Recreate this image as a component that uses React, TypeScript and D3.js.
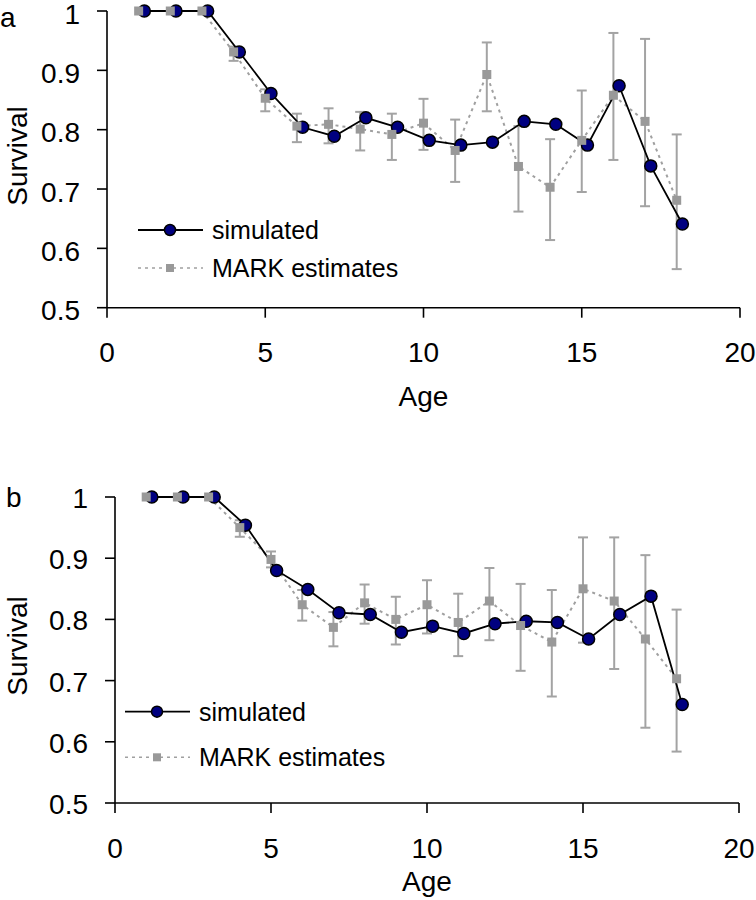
import React from "react";
import * as d3 from "d3";

const ages = [1, 2, 3, 4, 5, 6, 7, 8, 9, 10, 11, 12, 13, 14, 15, 16, 17, 18];

const simA = [1, 1, 1, 0.931, 0.861, 0.804, 0.789, 0.82, 0.804, 0.782, 0.774, 0.779, 0.814, 0.809, 0.774, 0.874, 0.739, 0.641];
const markA = [1, 1, 1, 0.931, 0.853, 0.806, 0.809, 0.801, 0.792, 0.811, 0.765, 0.893, 0.738, 0.703, 0.782, 0.858, 0.814, 0.681];
const markALo = [1, 1, 1, 0.916, 0.831, 0.779, 0.777, 0.765, 0.749, 0.766, 0.712, 0.831, 0.662, 0.614, 0.695, 0.749, 0.671, 0.565];
const markAHi = [1, 1, 1, 0.94, 0.868, 0.827, 0.836, 0.83, 0.827, 0.852, 0.817, 0.947, 0.806, 0.784, 0.866, 0.963, 0.953, 0.792];

const simB = [1, 1, 1, 0.954, 0.88, 0.849, 0.811, 0.808, 0.779, 0.789, 0.777, 0.793, 0.797, 0.795, 0.768, 0.808, 0.838, 0.661];
const markB = [1, 1, 1, 0.95, 0.898, 0.824, 0.787, 0.827, 0.8, 0.824, 0.795, 0.83, 0.79, 0.763, 0.85, 0.83, 0.768, 0.703];
const markBLo = [1, 1, 1, 0.935, 0.885, 0.798, 0.756, 0.793, 0.759, 0.777, 0.74, 0.766, 0.716, 0.674, 0.762, 0.719, 0.623, 0.584];
const markBHi = [1, 1, 1, 0.962, 0.911, 0.848, 0.812, 0.857, 0.837, 0.864, 0.842, 0.884, 0.858, 0.848, 0.934, 0.934, 0.905, 0.816];

const xTicks = [0, 5, 10, 15, 20];
const yTicks = [0.5, 0.6, 0.7, 0.8, 0.9, 1];
const yTickLabels = ["0.5", "0.6", "0.7", "0.8", "0.9", "1"];
const seriesNames = ["simulated", "MARK estimates"];

const SIM_OFFSET = 0.18;
const FONT = "'Liberation Sans', Arial, sans-serif";

type PanelProps = {
  letter: string;
  sim: number[];
  mark: number[];
  lo: number[];
  hi: number[];
  x0: number;
  x1: number;
  yTop: number;
  yBot: number;
  tickFont: number;
  yLabDy: number;
  ageBaseline: number;
  survivalX: number;
  survivalY: number;
  letterX: number;
  letterY: number;
  legX: number;
  legY1: number;
  legY2: number;
};

function Panel(p: PanelProps) {
  const x = d3.scaleLinear().domain([0, 20]).range([p.x0, p.x1]);
  const y = d3.scaleLinear().domain([0.5, 1]).range([p.yBot, p.yTop]);
  const simLine = d3
    .line<number>()
    .x((_, i) => x(ages[i] + SIM_OFFSET))
    .y((d) => y(d));
  const markLine = d3
    .line<number>()
    .x((_, i) => x(ages[i]))
    .y((d) => y(d));
  const grayBar = "#a3a3a3";
  const sq = 9;
  return (
    <g fontFamily={FONT}>
      <text x={p.letterX} y={p.letterY} fontSize={28} fill="#000">
        {p.letter}
      </text>
      {/* axes */}
      <line x1={p.x0} x2={p.x0} y1={p.yTop} y2={p.yBot} stroke="#000" strokeWidth={1.6} />
      <line x1={p.x0} x2={p.x1} y1={p.yBot} y2={p.yBot} stroke="#000" strokeWidth={1.6} />
      {yTicks.map((t, i) => (
        <g key={"y" + t}>
          <line x1={p.x0 - 10} x2={p.x0} y1={y(t)} y2={y(t)} stroke="#000" strokeWidth={1.6} />
          <text
            x={p.x0 - 27}
            y={y(t) + p.yLabDy}
            textAnchor="end"
            dominantBaseline="central"
            fontSize={p.tickFont}
            fill="#000"
          >
            {yTickLabels[i]}
          </text>
        </g>
      ))}
      {xTicks.map((t) => (
        <g key={"x" + t}>
          <line x1={x(t)} x2={x(t)} y1={p.yBot} y2={p.yBot + 10} stroke="#000" strokeWidth={1.6} />
          <text
            x={x(t)}
            y={p.yBot + 45}
            textAnchor="middle"
            dominantBaseline="central"
            fontSize={p.tickFont}
            fill="#000"
          >
            {t}
          </text>
        </g>
      ))}
      <text x={(p.x0 + p.x1) / 2} y={p.ageBaseline} textAnchor="middle" fontSize={28} fill="#000">
        Age
      </text>
      <text
        transform={`translate(${p.survivalX},${p.survivalY}) rotate(-90)`}
        textAnchor="middle"
        fontSize={28}
        fill="#000"
      >
        Survival
      </text>
      {/* error bars */}
      {ages.map((a, i) =>
        p.hi[i] - p.lo[i] > 0.001 ? (
          <g key={"e" + a} stroke={grayBar} strokeWidth={2}>
            <line x1={x(a)} x2={x(a)} y1={y(p.lo[i])} y2={y(p.hi[i])} />
            <line x1={x(a) - 5} x2={x(a) + 5} y1={y(p.lo[i])} y2={y(p.lo[i])} />
            <line x1={x(a) - 5} x2={x(a) + 5} y1={y(p.hi[i])} y2={y(p.hi[i])} />
          </g>
        ) : null
      )}
      <path d={markLine(p.mark) || ""} fill="none" stroke="#a0a0a0" strokeWidth={2} strokeDasharray="3,4" />
      <path d={simLine(p.sim) || ""} fill="none" stroke="#000" strokeWidth={1.8} />
      {p.sim.map((v, i) => (
        <circle key={"c" + i} cx={x(ages[i] + SIM_OFFSET)} cy={y(v)} r={6} fill="#000080" stroke="#000" strokeWidth={1.5} />
      ))}
      {p.mark.map((v, i) => (
        <rect key={"s" + i} x={x(ages[i]) - sq / 2} y={y(v) - sq / 2} width={sq} height={sq} fill="#999999" />
      ))}
      {/* legend */}
      <line x1={p.legX} x2={p.legX + 65} y1={p.legY1} y2={p.legY1} stroke="#000" strokeWidth={1.8} />
      <circle cx={p.legX + 32} cy={p.legY1} r={5.5} fill="#000080" stroke="#000" strokeWidth={1.5} />
      <text x={p.legX + 74} y={p.legY1} dominantBaseline="central" fontSize={25} fill="#000">
        {seriesNames[0]}
      </text>
      <line x1={p.legX} x2={p.legX + 65} y1={p.legY2} y2={p.legY2} stroke="#a0a0a0" strokeWidth={1.5} strokeDasharray="3,4" />
      <rect x={p.legX + 32 - 4} y={p.legY2 - 4} width={8} height={8} fill="#999999" />
      <text x={p.legX + 74} y={p.legY2} dominantBaseline="central" fontSize={25} fill="#000">
        {seriesNames[1]}
      </text>
    </g>
  );
}

export default function App() {
  return (
    <svg
      width={756}
      height={900}
      viewBox="0 0 756 900"
      style={{ position: "absolute", left: 0, top: 0, background: "#fff" }}
    >
      <rect width={756} height={900} fill="#fff" />
      <Panel
        letter="a"
        sim={simA}
        mark={markA}
        lo={markALo}
        hi={markAHi}
        x0={107}
        x1={740}
        yTop={11}
        yBot={307.7}
        tickFont={28}
        yLabDy={3}
        ageBaseline={406}
        survivalX={26.5}
        survivalY={156}
        letterX={0}
        letterY={27}
        legX={138}
        legY1={230}
        legY2={268}
      />
      <Panel
        letter="b"
        sim={simB}
        mark={markB}
        lo={markBLo}
        hi={markBHi}
        x0={115}
        x1={739}
        yTop={497}
        yBot={803}
        tickFont={28}
        yLabDy={1.5}
        ageBaseline={891}
        survivalX={27}
        survivalY={646}
        letterX={6}
        letterY={507}
        legX={125}
        legY1={711.7}
        legY2={757.3}
      />
    </svg>
  );
}
